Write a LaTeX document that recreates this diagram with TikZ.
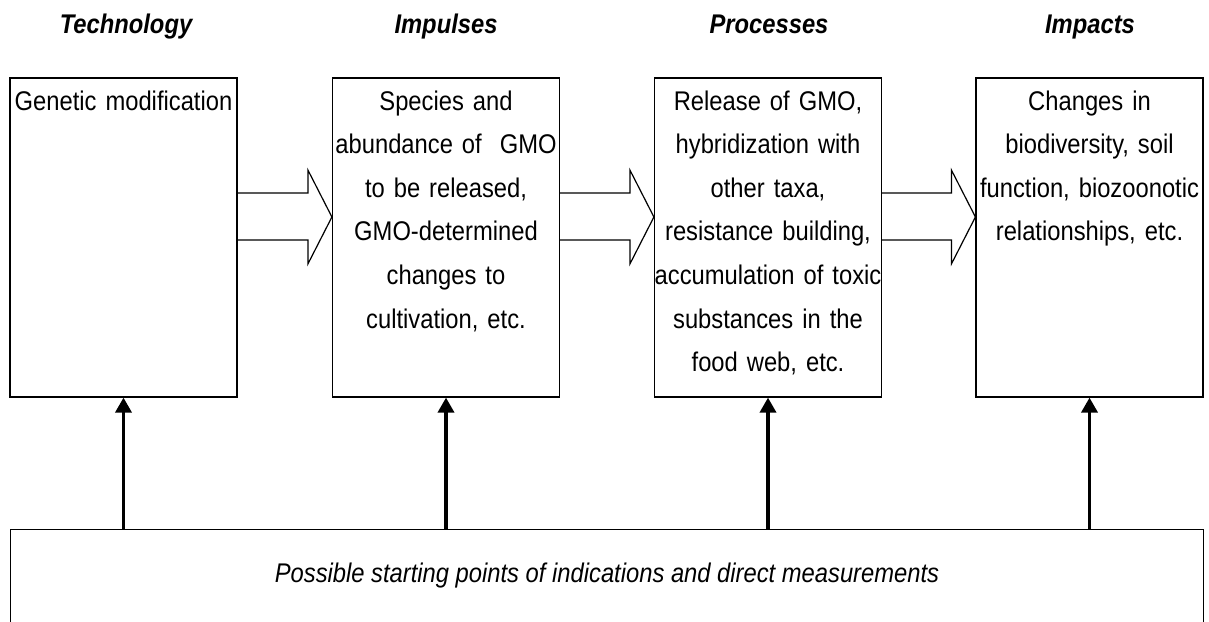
\documentclass[tikz,border=0pt]{standalone}
\usepackage{fontspec}
\setmainfont[FakeStretch=0.88]{Liberation Sans}
\usetikzlibrary{arrows.meta,calc,positioning}
\tikzset{
  stage/.style={draw, line width=1.2pt, minimum width=227pt, minimum height=319pt, inner sep=0pt},
  body/.style={font=\fontsize{27}{43.6}\selectfont, text width=300pt, align=center, inner sep=0pt, anchor=base},
  head/.style={font=\fontsize{27}{35}\selectfont\bfseries\itshape, inner sep=0pt, anchor=base},
  flow/.style={line width=1.2pt, line join=miter},
  lift/.style={line width=3.5pt, -{Triangle[width=16pt,length=15pt]}},
}

\begin{document}
\begin{tikzpicture}[x=1pt,y=-1pt]
  \useasboundingbox (0,0) rectangle (1209,621);

  % stage boxes
  \node[stage] (tech) at (123.5,237.5) {};
  \node[stage] (impu) at (446,237.5) {};
  \node[stage] (proc) at (768,237.5) {};
  \node[stage] (impa) at (1089.5,237.5) {};

  % column titles
  \node[head] (ttech) at (126,33) {Technology};
  \node[head] (timpu) at (446,33) {Impulses};
  \node[head] (tproc) at (769,33) {Processes};
  \node[head] (timpa) at (1090,33) {Impacts};

  % box texts
  \node[body] (xtech) at (123.5,110) {Genetic modification};
  \node[body] (ximpu) at (446,110) {Species and\\ abundance of~ GMO\\ to be released,\\ GMO-determined\\ changes to\\ cultivation, etc.};
  \node[body] (xproc) at (768,110) {Release of GMO,\\ hybridization with\\ other taxa,\\ resistance building,\\ accumulation of toxic\\ substances in the\\ food web, etc.};
  \node[body] (ximpa) at (1089.5,110) {Changes in\\ biodiversity, soil\\ function, biozoonotic\\ relationships, etc.};

  % block arrows between stages
  \foreach \a/\b in {tech/impu,impu/proc,proc/impa}
    \draw[flow] (\a.east |- 0,193) -- ($(\b.west |- 0,193)+(-24,0)$)
      -- ($(\b.west |- 0,170)+(-24,0)$) -- (\b.west |- 0,217)
      -- ($(\b.west |- 0,264)+(-24,0)$) -- ($(\b.west |- 0,240)+(-24,0)$)
      -- (\a.east |- 0,240);

  % measurement box
  \node[draw, line width=1.2pt, anchor=north west, minimum width=1193pt, minimum height=150pt, inner sep=0pt] (meas) at (10,529) {};
  \node[font=\fontsize{27}{35}\selectfont\itshape, inner sep=0pt, anchor=base] (xmeas) at (607,582) {Possible starting points of indications and direct measurements};

  \foreach \s in {tech,impu,proc,impa}
    \draw[lift] (meas.north -| \s) -- (\s.south);
\end{tikzpicture}
\end{document}
